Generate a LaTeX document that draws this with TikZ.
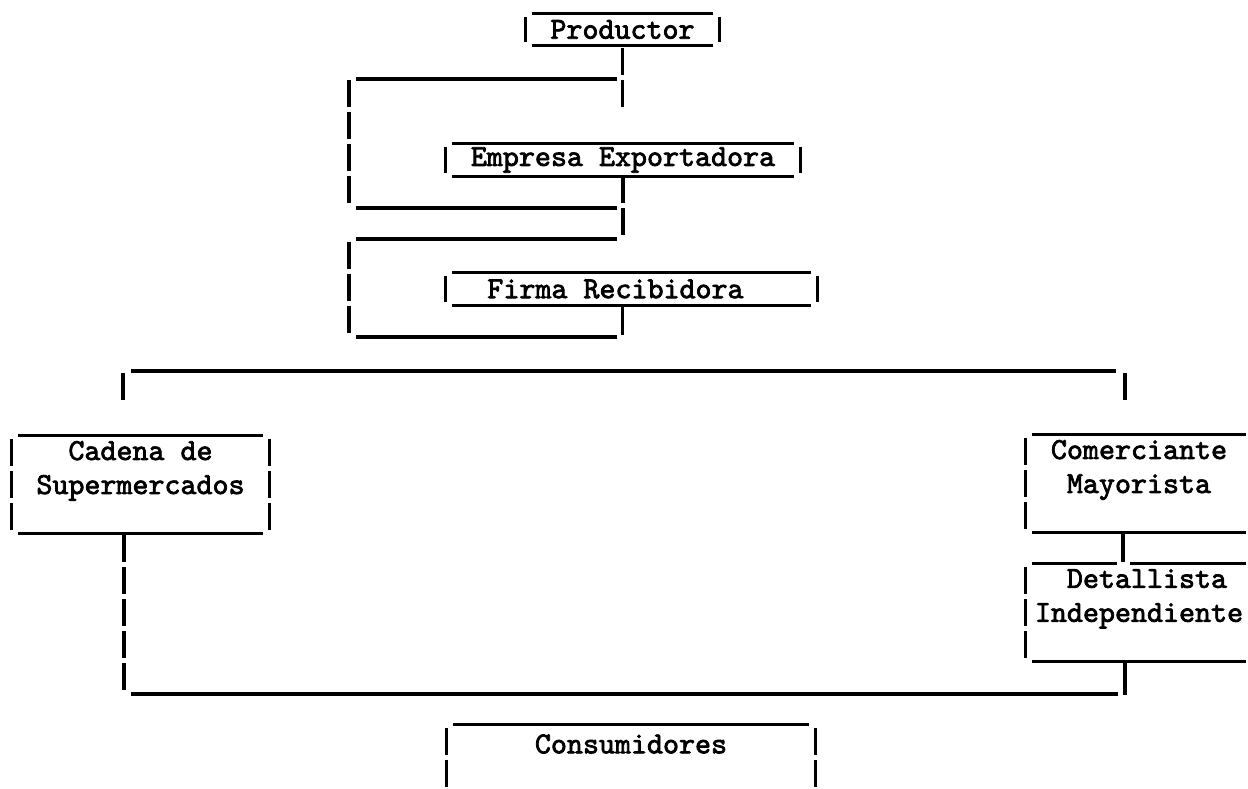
\documentclass[tikz,border=0pt]{standalone}
\usepackage{fontspec}
\newfontfamily\typefont{lmmono10-regular.otf}[FakeBold=2.4]
\usepackage{tikz}

% typed frame pieces: underscore rules on top/bottom, bar characters at the sides
\newcommand\boxtop[1]{\draw[rule] ([xshift=6pt]#1.north west) -- ([xshift=-6pt]#1.north east);}
\newcommand\boxbottom[1]{\draw[rule] ([xshift=6pt]#1.south west) -- ([xshift=-6pt]#1.south east);}
\newcommand\leftbar[1]{\draw[bar] ([yshift=-3pt]#1.north west) -- ([yshift=3pt]#1.south west);}
\newcommand\rightbar[1]{\draw[bar] ([yshift=-3pt]#1.north east) -- ([yshift=3pt]#1.south east);}

\begin{document}
\begin{tikzpicture}[x=1pt, y=-1pt,
  rule/.style={line width=3.2pt},
  bar/.style={line width=3.2pt, dash pattern=on 27pt off 5pt},
  tbox/.style={inner sep=0pt, align=center, font=\typefont\fontsize{30.5}{34}\selectfont}]
  \useasboundingbox (0,0) rectangle (1248,789);

  % the boxes of the chain
  \node[tbox, minimum width=193pt, minimum height=31pt] (prod) at (622.5,29.5) {Productor};
  \node[tbox, minimum width=354pt, minimum height=32pt] (expo) at (623,160) {Empresa Exportadora};
  \node[tbox, minimum width=371pt, minimum height=32pt] (recib) at (631.5,289) {Firma Recibidora\phantom{xx}};
  \node[tbox, minimum width=257pt, minimum height=97pt] (super) at (140.5,484.5) {Cadena de\\Supermercados\\\mbox{}};
  \node[tbox, minimum width=226pt, minimum height=97pt] (mayor) at (1139,483.5) {Comerciante\\Mayorista\\\mbox{}};
  \node[tbox, minimum width=226pt, minimum height=97pt] (detal) at (1139,612.5) {\phantom{x}Detallista\\Independiente\\\mbox{}};
  \node[tbox, minimum width=368pt, minimum height=38pt] (cons) at (631,744) {Consumidores};

  \foreach \b in {prod,expo,recib,super,mayor,cons} {\boxtop{\b}}
  \foreach \b in {prod,expo,recib,super,mayor,detal} {\boxbottom{\b} \leftbar{\b}}
  \foreach \b in {prod,expo,recib,super} {\rightbar{\b}}
  \draw[bar] ([yshift=-3pt]cons.north west) -- +(0,59);
  \draw[bar] ([yshift=-3pt]cons.north east) -- +(0,59);
  % top rule of the retailer box, broken where the stem comes in
  \draw[rule] ([xshift=6pt]detal.north west) -- ([xshift=-22pt]detal.north);
  \draw[rule] ([xshift=-9pt]detal.north) -- ([xshift=-6pt]detal.north east);

  % productor -> exportadora
  \draw[bar] ([yshift=-3pt]prod.south) -- +(0,59);
  \draw[rule] (356,79) -- (617,79);
  \draw[bar] (349,80) -- (349,203);
  \draw[rule] (356,208) -- (617,208);
  % exportadora -> recibidora
  \draw[bar] (expo.south) -- +(0,61);
  \draw[rule] (356,239) -- (617,239);
  \draw[bar] (349,242) -- (349,335);
  \draw[rule] (356,337) -- (617,337);
  \draw[rule] (recib.south -| prod.south) -- +(0,30);

  % two channels
  \draw[rule] (131,371) -- (1116,371);
  \draw[rule] (123,373) -- (123,400);
  \draw[rule] (1125,373) -- (1125,400);
  \draw[bar] ([xshift=-16.5pt,yshift=-2pt]super.south) -- +(0,155);
  \draw[rule] ([xshift=-16pt]mayor.south) -- +(0,30);
  \draw[rule] ([xshift=-14pt]detal.south) -- +(0,34);
  \draw[rule] (131,694) -- (1118,694);
\end{tikzpicture}
\end{document}
